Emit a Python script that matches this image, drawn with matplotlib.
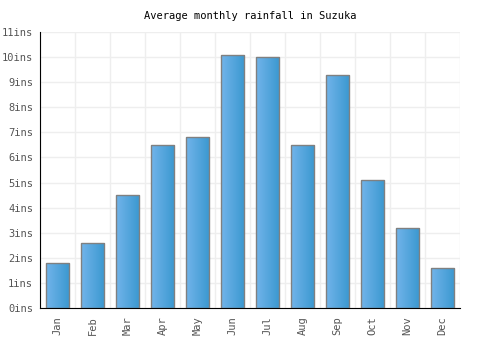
import matplotlib
matplotlib.use("Agg")
import matplotlib.pyplot as plt
import numpy as np
from matplotlib.colors import LinearSegmentedColormap

months = ["Jan", "Feb", "Mar", "Apr", "May", "Jun", "Jul", "Aug", "Sep", "Oct", "Nov", "Dec"]
rainfall = [1.8, 2.6, 4.5, 6.5, 6.8, 10.1, 10.0, 6.5, 9.3, 5.1, 3.2, 1.6]
yticks = list(range(0, 12))
ytick_labels = [f"{v}ins" for v in yticks]

plt.rcParams['font.family'] = ['DejaVu Sans Mono']

fig = plt.figure(figsize=(5, 3.5), dpi=100)
ax = fig.add_axes([0.08, 0.12, 0.84, 0.7886])

x = np.arange(len(months))
bars = ax.bar(x, rainfall, width=0.67, color='none', edgecolor='#808080', linewidth=1, zorder=3)

cmap = LinearSegmentedColormap.from_list('g', ['#72b4ea', '#3a98d0'])
grad = np.linspace(0, 1, 64).reshape(1, -1)
for b in bars:
    x0, w, h = b.get_x(), b.get_width(), b.get_height()
    im = ax.imshow(grad, extent=[x0, x0 + w, 0, h], aspect='auto', cmap=cmap, zorder=2,
                   interpolation='bilinear')
    im.set_clip_path(b)

ax.set_xlim(-0.5, len(months) - 0.5)
ax.set_ylim(0, 11)
ax.set_yticks(yticks)
ax.set_yticklabels(ytick_labels, fontsize=7.5, color='#555555')
ax.set_xticks(x)
ax.set_xticklabels(months, rotation=90, fontsize=7.5, color='#555555')
ax.set_xticks(np.arange(-0.5, len(months), 1), minor=True)
ax.tick_params(axis='x', which='both', length=0, pad=6)
ax.tick_params(axis='y', length=0, pad=5)
ax.grid(True, axis='y', color='#eeeeee', linewidth=1, zorder=0)
ax.grid(True, axis='x', which='minor', color='#eeeeee', linewidth=1, zorder=0)
ax.grid(False, axis='x', which='major')
for s in ['top', 'right']:
    ax.spines[s].set_visible(False)
ax.spines['left'].set_color('black')
ax.spines['bottom'].set_color('black')
ax.set_axisbelow(True)

fig.text(0.5, 1 - 16 / 350, "Average monthly rainfall in Suzuka", ha='center', va='center', fontsize=7.5, color='black')

fig.savefig("out.png", dpi=100)
